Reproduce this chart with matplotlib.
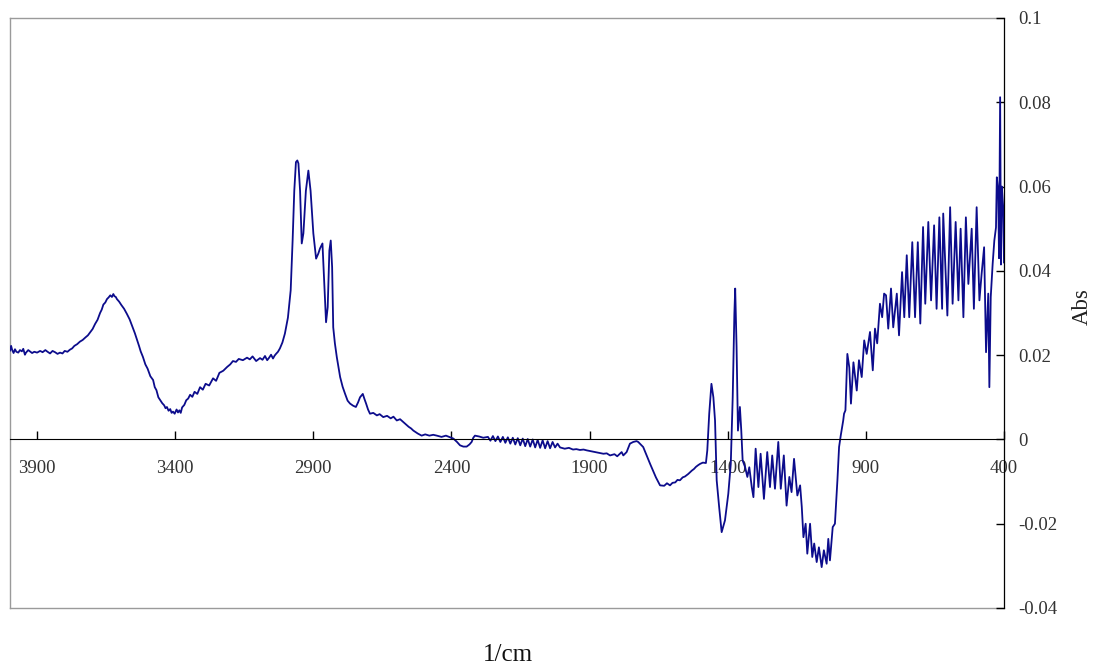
import matplotlib
matplotlib.use("Agg")
from matplotlib import pyplot as plt

# wavenumber (1/cm) and absorbance
wn_high = [3998, 3994, 3990, 3985, 3980, 3975, 3968, 3962, 3955, 3950, 3944, 3940, 3932, 3926,
           3918, 3910, 3900, 3889, 3880, 3870, 3862, 3853, 3844, 3835, 3826, 3817, 3808, 3800,
           3790, 3781, 3773, 3765, 3755, 3745, 3735, 3725, 3716, 3708, 3699, 3690, 3681, 3672,
           3666, 3660, 3653, 3647, 3641, 3635, 3629, 3624, 3620, 3615, 3611, 3603, 3595, 3585,
           3575, 3565, 3555, 3546, 3538, 3531, 3525, 3517, 3508, 3500, 3490, 3480, 3474, 3468,
           3461, 3455, 3447, 3440, 3435, 3430, 3424, 3418, 3413, 3408, 3402, 3395, 3390, 3385,
           3380, 3375, 3367, 3360, 3353, 3346, 3338, 3330, 3320, 3310, 3300, 3290, 3277, 3263,
           3252, 3240, 3226, 3212, 3201, 3191, 3180, 3170, 3155, 3140, 3130, 3120, 3107, 3093,
           3084, 3075, 3067, 3060, 3053, 3046, 3040, 3035, 3028, 3021]
ab_high = [0.0211, 0.0222, 0.0212, 0.0205, 0.0214, 0.0208, 0.0206, 0.0212, 0.0209, 0.0215,
           0.0201, 0.0206, 0.0212, 0.0209, 0.0205, 0.0208, 0.0206, 0.0210, 0.0207, 0.0212,
           0.0208, 0.0204, 0.0210, 0.0207, 0.0203, 0.0206, 0.0204, 0.0210, 0.0208, 0.0213,
           0.0216, 0.0222, 0.0226, 0.0232, 0.0236, 0.0242, 0.0247, 0.0254, 0.0262, 0.0274,
           0.0284, 0.0300, 0.0308, 0.0320, 0.0325, 0.0333, 0.0337, 0.0342, 0.0338, 0.0345,
           0.0340, 0.0338, 0.0333, 0.0327, 0.0319, 0.0310, 0.0298, 0.0285, 0.0268, 0.0252,
           0.0236, 0.0222, 0.0209, 0.0196, 0.0178, 0.0168, 0.0150, 0.0141, 0.0124, 0.0117,
           0.0100, 0.0094, 0.0086, 0.0081, 0.0074, 0.0077, 0.0068, 0.0072, 0.0063, 0.0066,
           0.0061, 0.0071, 0.0064, 0.0069, 0.0063, 0.0076, 0.0082, 0.0093, 0.0097, 0.0106,
           0.0101, 0.0113, 0.0108, 0.0124, 0.0118, 0.0132, 0.0128, 0.0145, 0.0139, 0.0158,
           0.0163, 0.0172, 0.0178, 0.0186, 0.0184, 0.0191, 0.0188, 0.0194, 0.0190, 0.0197,
           0.0186, 0.0193, 0.0189, 0.0198, 0.0188, 0.0194, 0.0201, 0.0192, 0.0199, 0.0203,
           0.0208, 0.0216]

wn_ch = [3012, 3003, 2992, 2982, 2975, 2969, 2963, 2958, 2954, 2948, 2942, 2936, 2927, 2918, 2910,
         2900, 2890, 2882, 2876, 2867, 2861, 2854, 2848, 2842, 2837, 2832, 2828, 2822, 2815,
         2809, 2803, 2794, 2785, 2776, 2767, 2756, 2746, 2738, 2731, 2721, 2715, 2709, 2702,
         2695, 2683, 2670, 2660, 2647, 2633, 2620, 2610, 2598, 2586, 2574, 2565, 2555, 2546,
         2538, 2522, 2508, 2495, 2480, 2466, 2453, 2436, 2420, 2405, 2393, 2380, 2369, 2357,
         2345, 2335, 2327, 2321, 2315, 2300, 2285]
ab_ch = [0.0230, 0.0251, 0.0289, 0.0354, 0.0472, 0.0590, 0.0658, 0.0662, 0.0655, 0.0590, 0.0465,
         0.0489, 0.0590, 0.0638, 0.0590, 0.0489, 0.0429, 0.0441, 0.0453, 0.0465, 0.0377, 0.0278,
         0.0314, 0.0448, 0.0472, 0.0409, 0.0266, 0.0228, 0.0195, 0.0172, 0.0148, 0.0125,
         0.0108, 0.0092, 0.0085, 0.0080, 0.0077, 0.0088, 0.0100, 0.0108, 0.0096, 0.0085,
         0.0071, 0.0061, 0.0063, 0.0057, 0.0060, 0.0053, 0.0056, 0.0050, 0.0054, 0.0045,
         0.0048, 0.0041, 0.0036, 0.0030, 0.0026, 0.0021, 0.0014, 0.0009, 0.0012, 0.0009,
         0.0011, 0.0009, 0.0006, 0.0009, 0.0005, 0.0002, -0.0006, -0.0014, -0.0017, -0.0017,
         -0.0012, -0.0006, 0.0004, 0.0009, 0.0007, 0.0004]

wn_mid = [2268, 2259, 2250, 2241, 2232, 2223, 2214, 2205, 2196, 2187, 2178, 2169, 2160, 2151,
          2142, 2133, 2124, 2115, 2106, 2097, 2088, 2079, 2070, 2061, 2052, 2043, 2034, 2025,
          2016, 2007, 1990, 1975, 1960, 1948, 1935, 1922, 1910, 1895, 1880, 1865, 1850, 1838,
          1826, 1810, 1800, 1784, 1778, 1766, 1754, 1742, 1730, 1724, 1706, 1681, 1660, 1645,
          1630, 1620, 1609, 1600, 1590, 1582, 1573, 1563, 1555, 1543, 1530, 1522, 1515, 1507,
          1500, 1490, 1479]
ab_mid = [0.0006, -0.0003, 0.0008, -0.0004, 0.0007, -0.0006, 0.0006, -0.0008, 0.0005, -0.0010,
          0.0004, -0.0012, 0.0003, -0.0014, 0.0002, -0.0016, 0.0001, -0.0017, 0.0000, -0.0019,
          -0.0001, -0.0020, -0.0002, -0.0021, -0.0004, -0.0021, -0.0006, -0.0019, -0.0010, -0.0019,
          -0.0022, -0.0020, -0.0024, -0.0023, -0.0025, -0.0024, -0.0026, -0.0028, -0.0030,
          -0.0032, -0.0034, -0.0033, -0.0038, -0.0035, -0.0040, -0.0030, -0.0038, -0.0030,
          -0.0010, -0.0006, -0.0004, -0.0006, -0.0018, -0.0058, -0.0090, -0.0109, -0.0110,
          -0.0104, -0.0109, -0.0103, -0.0102, -0.0096, -0.0097, -0.0090, -0.0088, -0.0082,
          -0.0074, -0.0070, -0.0065, -0.0061, -0.0058, -0.0055, -0.0056]

wn_fp = [1474, 1467, 1459, 1452, 1446, 1440, 1431, 1422, 1410, 1398, 1389, 1382, 1376, 1373,
         1368, 1363, 1356, 1351, 1346, 1337, 1329, 1322, 1313, 1307, 1299, 1289, 1281, 1269,
         1257, 1247, 1239, 1229, 1217, 1208, 1197, 1187, 1177, 1169, 1160, 1148, 1138, 1132,
         1126, 1118, 1112, 1102, 1094, 1087, 1078, 1070, 1060, 1052, 1042, 1036, 1030, 1020,
         1012, 1003, 997, 991]
ab_fp = [-0.0026, 0.0061, 0.0132, 0.0100, 0.0045, -0.0097, -0.0161, -0.0220, -0.0192, -0.0129,
         -0.0058, 0.0100, 0.0298, 0.0358, 0.0219, 0.0021, 0.0077, 0.0021, -0.0050, -0.0066,
         -0.0089, -0.0066, -0.0113, -0.0137, -0.0022, -0.0113, -0.0034, -0.0141, -0.0030, -0.0113,
         -0.0038, -0.0117, -0.0006, -0.0117, -0.0038, -0.0157, -0.0089, -0.0125, -0.0046, -0.0133,
         -0.0109, -0.0160, -0.0232, -0.0200, -0.0271, -0.0200, -0.0279, -0.0247, -0.0291, -0.0256,
         -0.0303, -0.0263, -0.0295, -0.0236, -0.0287, -0.0208, -0.0200, -0.0097, -0.0018, 0.0009]

wn_low = [982, 979, 974, 967, 960, 954, 945, 933, 925, 915, 906, 897, 885, 875, 867, 859, 849,
          841, 834, 827, 819, 809, 801, 788, 780, 769, 761, 752, 743, 732, 722, 712, 703, 693,
          685, 674, 664, 653, 644, 634, 624, 620, 605, 595, 586, 575, 565, 557, 547, 538, 529,
          517, 509, 499, 489, 481, 472, 465, 457, 453, 448, 441, 435, 429, 426, 421, 418, 414,
          411, 408, 403, 400]
ab_low = [0.0045, 0.0061, 0.0069, 0.0203, 0.0171, 0.0085, 0.0183, 0.0116, 0.0188, 0.0148, 0.0235,
          0.0203, 0.0255, 0.0164, 0.0263, 0.0228, 0.0322, 0.0290, 0.0346, 0.0342, 0.0263, 0.0358,
          0.0266, 0.0346, 0.0247, 0.0397, 0.0290, 0.0437, 0.0290, 0.0468, 0.0290, 0.0468, 0.0275,
          0.0504, 0.0322, 0.0516, 0.0330, 0.0508, 0.0310, 0.0527, 0.0310, 0.0536, 0.0294, 0.0551,
          0.0322, 0.0516, 0.0330, 0.0500, 0.0290, 0.0527, 0.0369, 0.0500, 0.0310, 0.0551, 0.0330,
          0.0393, 0.0456, 0.0207, 0.0346, 0.0124, 0.0338, 0.0417, 0.0472, 0.0503, 0.0622, 0.0590,
          0.0430, 0.0812, 0.0415, 0.0600, 0.0552, 0.0420]

wavenumber = wn_high + wn_ch + wn_mid + wn_fp + wn_low
absorbance = ab_high + ab_ch + ab_mid + ab_fp + ab_low

x_ticks = [3900, 3400, 2900, 2400, 1900, 1400, 900, 400]
y_ticks = [-0.04, -0.02, 0, 0.02, 0.04, 0.06, 0.08, 0.1]
y_labels = ["-0.04", "-0.02", "0", "0.02", "0.04", "0.06", "0.08", "0.1"]

plt.rcParams['font.family'] = ['Liberation Serif', 'DejaVu Serif']

W, H = 1096, 668
fig = plt.figure(figsize=(W / 100, H / 100), dpi=100)
pos = [10 / W, 60 / H, 994 / W, 590 / H]

# grey frame box behind the plot
frame = fig.add_axes(pos)
frame.set_xticks([])
frame.set_yticks([])
for s in frame.spines.values():
    s.set_color('#9a9a9a')
    s.set_linewidth(1.0)

ax = fig.add_axes(pos)
ax.patch.set_visible(False)
ax.plot(wavenumber, absorbance, color='#0c0c8c', lw=1.3)
ax.set_xlim(3998, 400)
ax.set_ylim(-0.04, 0.1)

ax.spines['left'].set_visible(False)
ax.spines['top'].set_visible(False)
ax.spines['bottom'].set_position(('data', 0))
ax.spines['bottom'].set_color('black')
ax.spines['right'].set_color('black')

ax.set_xticks(x_ticks)
ax.set_xticklabels([str(t) for t in x_ticks])
ax.tick_params(axis='x', direction='in', length=6, pad=15, labelsize=13.5,
               labelcolor='#333333', width=1)
ax.yaxis.tick_right()
ax.set_yticks(y_ticks)
ax.set_yticklabels(y_labels)
ax.tick_params(axis='y', direction='in', length=6, pad=10, labelsize=13.5,
               labelcolor='#333333', width=1)

fig.text(508 / W, 1 - 655 / H, '1/cm', ha='center', va='center', fontsize=18, color='#111111')
fig.text(1082 / W, 1 - 307 / H, 'Abs', ha='center', va='center', rotation=90,
         fontsize=16.5, color='#222222')

fig.savefig('out.png', dpi=100)
